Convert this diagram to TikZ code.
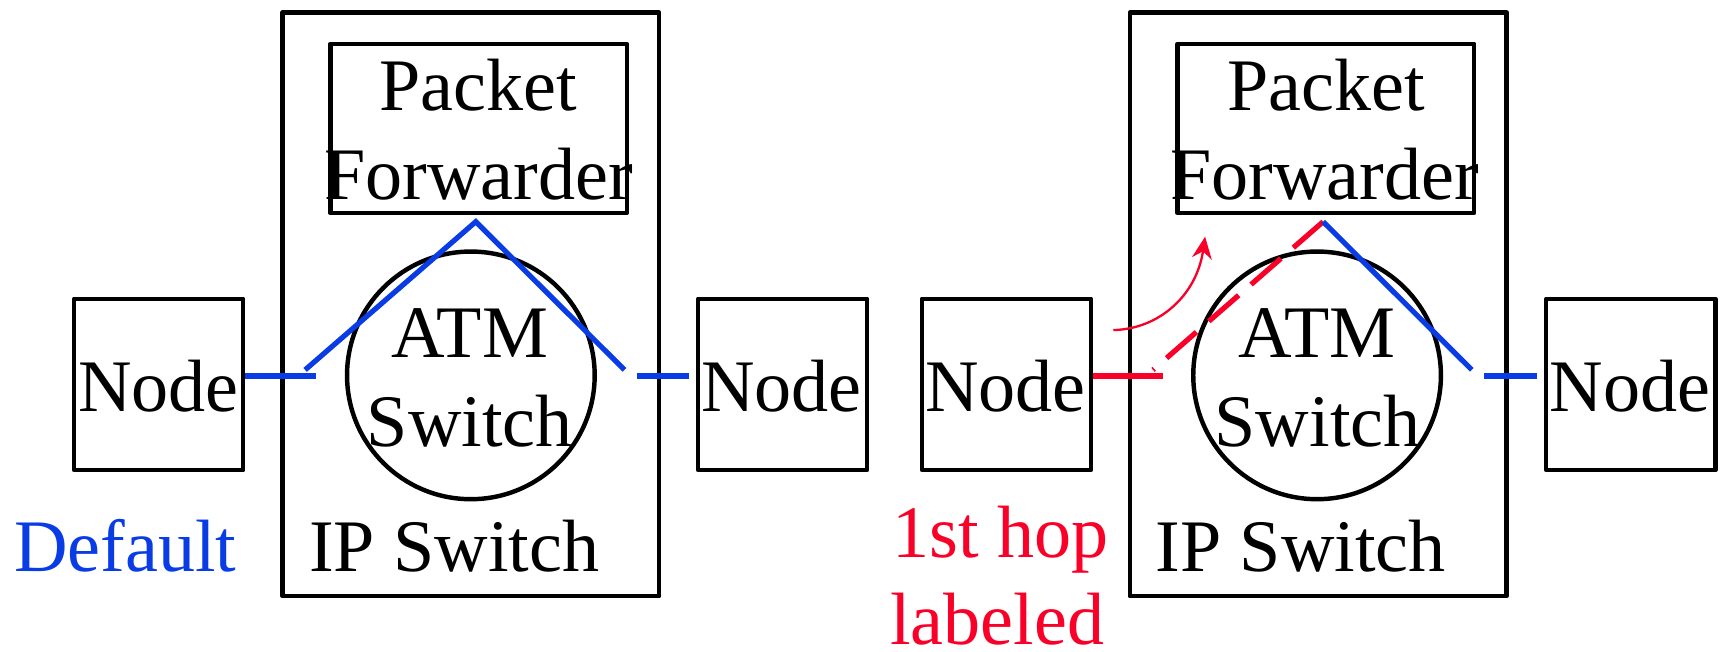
\documentclass[tikz,border=0pt]{standalone}
\usepackage{fontspec}
\setmainfont{Liberation Serif}
\usetikzlibrary{arrows.meta}
\definecolor{myblue}{RGB}{10,60,230}
\definecolor{myred}{RGB}{250,0,40}
\begin{document}
\begin{tikzpicture}[x=0.01cm,y=-0.01cm,
  box/.style={draw=black, line width=1.15pt, line join=round, rectangle, inner sep=0pt},
  nodebox/.style={box, minimum width=1.54cm, minimum height=1.56cm},
  ipbox/.style={box, minimum width=3.43cm, minimum height=5.315cm},
  pfbox/.style={box, minimum width=2.70cm, minimum height=1.54cm},
  atm/.style={draw=black, line width=1.15pt, circle, inner sep=0pt, minimum size=2.255cm},
  txt/.style={inner sep=0pt, anchor=base, font=\fontsize{19.2}{23}\selectfont},
  bluepath/.style={draw=myblue, line width=1.35pt},
  redpath/.style={draw=myred, line width=1.35pt},
  hoparrow/.style={draw=myred, line width=0.6pt, -{Stealth[length=0.2cm, width=0.18cm]}},
]
\useasboundingbox (0,0) rectangle (1568,594);

% boxes
\node[ipbox] (ip1) at (429,277.25) {};
\node[ipbox] (ip2) at (1201,277.25) {};
\node[pfbox] (pf1) at (436,117) {};
\node[pfbox] (pf2) at (1208,117) {};
\node[atm] (c1) at (429,342) {};
\node[atm] (c2) at (1200,342) {};
\node[nodebox] (n1) at (144.5,350.3) {};
\node[nodebox] (n2) at (713,350.3) {};
\node[nodebox] (n3) at (917,350.3) {};
\node[nodebox] (n4) at (1485.8,350.3) {};

% texts
\node[txt] (t1) at (144.5,375) {Node};
\node[txt] (t2) at (712,375) {Node};
\node[txt] (t3) at (916,375) {Node};
\node[txt] (t4) at (1485,375) {Node};
\node[txt] (pa1) at (436,100.4) {Packet};
\node[txt] (fo1) at (436,182) {Forwarder};
\node[txt] (pa2) at (1208,100.4) {Packet};
\node[txt] (fo2) at (1207,182) {Forwarder};
\node[txt] (at1) at (428,325.8) {ATM};
\node[txt] (sw1) at (428,407) {Switch};
\node[txt] (at2) at (1200,325.8) {ATM};
\node[txt] (sw2) at (1200.5,407) {Switch};
\node[txt] (ips1) at (414,521) {IP Switch};
\node[txt] (ips2) at (1185,521) {IP Switch};
\node[txt, text=myblue] (def) at (114,521) {Default};
\node[txt, text=myred] (hop1) at (911.5,507.5) {1st hop};
\node[txt, text=myred] (hop2) at (908.5,587) {labeled};

% path coordinates
\coordinate (hl) at (0,342.6);
\coordinate (a1) at (287.5,342.6);
\coordinate (b1) at (278,337);
\coordinate (apex1) at (433.5,202);
\coordinate (c1e) at (569,337);
\coordinate (d1) at (580,342.6);
\coordinate (e1) at (628,342.6);

\coordinate (a2) at (1060,342.6);
\coordinate (b2) at (1050.5,337);
\coordinate (apex2) at (1205.5,202);
\coordinate (c2e) at (1341,337);
\coordinate (d2) at (1352,342.6);
\coordinate (e2) at (1400,342.6);

\coordinate (arrs) at (1014.3,300.7);
\coordinate (arre) at (1098,215.6);

% default path
\draw[bluepath] (n1.east |- hl) -- (a1);
\draw[bluepath, miter limit=20] (b1) -- (apex1) -- (c1e);
\draw[bluepath] (d1) -- (e1);

% first hop labeled path
\draw[redpath] (n3.east |- hl) -- (a2);
\draw[redpath, dash pattern=on 0.36cm off 0.15cm] (apex2) -- (b2);
\draw[bluepath] (apex2) -- (c2e);
\draw[bluepath] (d2) -- (e2);

\draw[hoparrow] (arrs) .. controls (1055,300) and (1090,270) .. (arre);
\end{tikzpicture}
\end{document}
